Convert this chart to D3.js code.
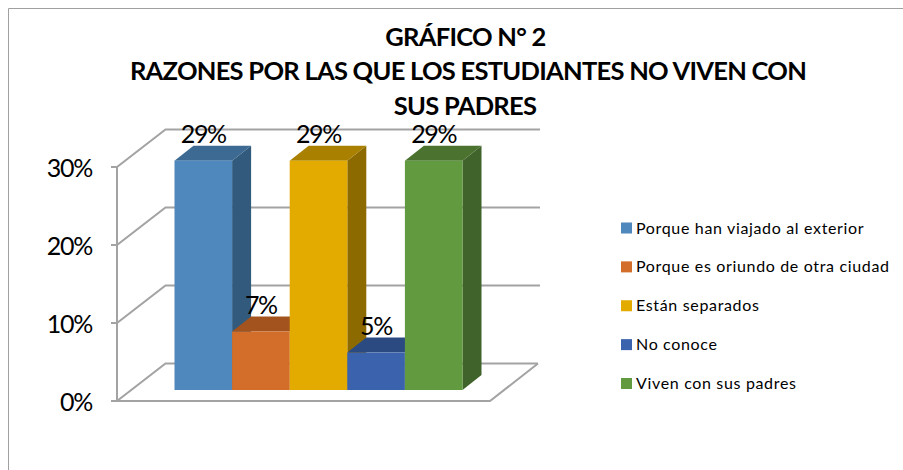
<!DOCTYPE html>
<html><head><meta charset="utf-8">
<script src="https://cdn.jsdelivr.net/npm/d3@7/dist/d3.min.js"></script>
<style>html,body{margin:0;padding:0;background:#fff}svg{display:block}text{font-family:Lato,"Open Sans",sans-serif;fill:#000}</style>
</head><body><svg id="c" width="903" height="470"></svg>
<script>
const titleLines = ["GRÁFICO N° 2","RAZONES POR LAS QUE LOS ESTUDIANTES NO VIVEN CON","SUS PADRES"];
const categories = ["Porque han viajado al exterior","Porque es oriundo de otra ciudad","Están separados","No conoce","Viven con sus padres"];
const values = [29.4,7.5,29.4,4.8,29.4];
const valueLabels = ["29%","7%","29%","5%","29%"];
const ticks = [0,10,20,30];
const frontColors = ["#4f88bd","#d26e2a","#e3ab00","#3b63ad","#629a3f"];
const sideColors = ["#315a7c","#8a4a1c","#8c6a00","#27427a","#3f632a"];
const topColors = ["#3c6a93","#a3541e","#aa8000","#2c4a82","#4b722f"];

const svg = d3.select("#c");
svg.append("path").attr("d","M8.5,470V8.5H903").attr("fill","none").attr("stroke","#a0a0a0").attr("stroke-width",1);

const y = d3.scaleLinear().domain([0,30]).range([401,167]);
const wallX = 117, wallDx = 48.5, wallDy = -37.5, floorW = 373;
const grid = svg.append("g").attr("fill","none").attr("stroke","#a3a3a3").attr("stroke-width",2);
ticks.forEach(t=>{
  const Y=y(t);
  grid.append("path").attr("d",`M${wallX-6},${Y}H${wallX}L${wallX+wallDx},${Y+wallDy}H${t===0?538:540}`);
});
grid.append("path").attr("d",`M${wallX},${y(30)}V${y(0)}H${wallX+floorW}L538,${y(0)+wallDy}`);

const x = d3.scaleBand().domain(categories).range([174.5,462.5]);
const h = d3.scaleLinear().domain([0,30]).range([0,234]);
const baseY = 390, dx = 19, dy = -15;
const marks = svg.append("g");
categories.forEach((c,i)=>{
  const x0=x(c), x1=x0+x.bandwidth(), top=baseY-h(values[i]);
  marks.append("path").attr("fill",sideColors[i]).attr("d",`M${x1},${baseY}L${x1+dx},${baseY+dy}V${top+dy}L${x1},${top}Z`);
  marks.append("path").attr("fill",topColors[i]).attr("d",`M${x0},${top}L${x0+dx},${top+dy}H${x1+dx}L${x1},${top}Z`);
});
categories.forEach((c,i)=>{
  const x0=x(c), top=baseY-h(values[i]);
  marks.append("rect").attr("x",x0).attr("y",top).attr("width",x.bandwidth()).attr("height",h(values[i])).attr("fill",frontColors[i]);
});
categories.forEach((c,i)=>{
  const top=baseY-h(values[i]);
  svg.append("text").attr("x",x(c)+x.bandwidth()/2).attr("y",top-17.5).attr("text-anchor","middle").attr("font-size",25).attr("letter-spacing",-1.3).text(valueLabels[i]);
});
ticks.forEach(t=>svg.append("text").attr("x",92).attr("y",y(t)+9.5).attr("text-anchor","end").attr("font-size",25).attr("letter-spacing",-1.3).text(t+"%"));
titleLines.forEach((l,i)=>svg.append("text").attr("x",[465.5,468,465][i]).attr("y",45.5+i*34.5).attr("text-anchor","middle").attr("font-size",25.5).attr("letter-spacing",-0.73).attr("font-weight",700).text(l));
const legY = d3.scalePoint().domain(categories).range([228,383.5]);
categories.forEach((c,i)=>{
  svg.append("rect").attr("x",621).attr("y",legY(c)-5.5).attr("width",11).attr("height",11).attr("fill",frontColors[i]);
  svg.append("text").attr("x",636).attr("y",legY(c)+5.5).attr("font-size",16).attr("letter-spacing",0.66).attr("fill","#222").text(c);
});
</script></body></html>
